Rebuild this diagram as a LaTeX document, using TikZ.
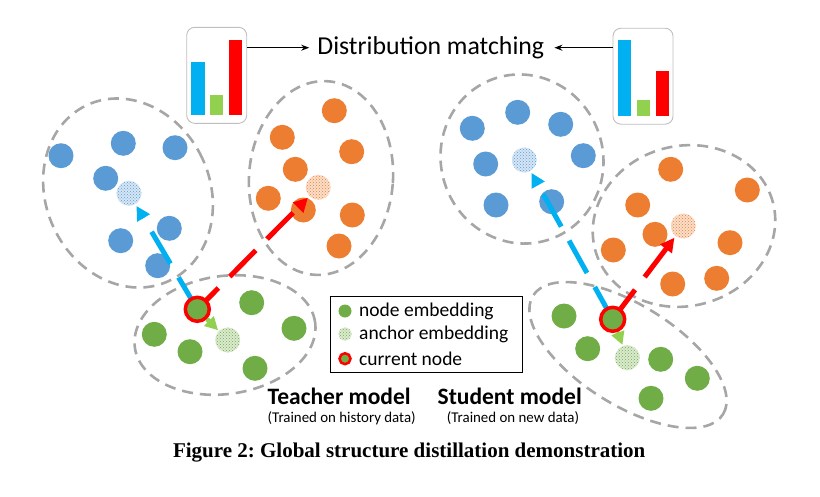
\documentclass[tikz,border=0pt]{standalone}
\usepackage{fontspec}
\setmainfont{Carlito}
\newfontfamily\capfont{Liberation Serif}
\usetikzlibrary{arrows.meta,patterns}
\frenchspacing
\definecolor{nblue}{HTML}{5B9BD5}
\definecolor{norange}{HTML}{ED7D31}
\definecolor{ngreen}{HTML}{70AD47}
\definecolor{acyan}{HTML}{00B0F0}
\definecolor{ared}{HTML}{FF0000}
\definecolor{alime}{HTML}{92D050}
\definecolor{dgray}{HTML}{A6A6A6}
\definecolor{bgray}{HTML}{BFBFBF}
\tikzset{
 emb/.style={circle, fill=#1, minimum size=25pt, inner sep=0pt},
 anc/.style={circle, fill=#1!25, minimum size=25pt, inner sep=0pt,
   postaction={pattern=crosshatch dots, pattern color=#1}},
 cur/.style={circle, fill=ngreen, draw=ared, line width=3.5pt, minimum size=24pt, inner sep=0pt},
 cluster/.style={draw=dgray, line width=2.6pt, dash pattern=on 11pt off 7pt},
 flow/.style={line width=5pt, dash pattern=on 37pt off 16pt, -{Triangle[length=14pt,width=14pt]}, shorten >=2pt},
 shortflow/.style={line width=4.5pt, alime, -{Triangle[length=13pt,width=13pt]}, shorten >=1pt},
 chartbox/.style={draw=bgray, rounded corners=8pt, line width=0.9pt, fill=white, minimum width=60pt, minimum height=96pt, inner sep=0pt},
 ptr/.style={line width=1.3pt, -{Stealth[length=8pt,width=6pt]}},
 lbl/.style={inner sep=0pt, font=\fontsize{19.5}{22}\selectfont},
 title/.style={inner sep=0pt, anchor=base, font=\fontsize{23.5}{26}\selectfont\bfseries},
 sub/.style={inner sep=0pt, anchor=base, font=\fontsize{14.9}{17}\selectfont},
 legdot/.style={circle, fill=ngreen, minimum size=13pt, inner sep=0pt},
}
\begin{document}
\begin{tikzpicture}[x=1pt,y=-1pt]
\useasboundingbox (0,0) rectangle (820,496);
% ---------- clusters ----------
\draw[cluster, rotate around={25:(128,193)}] (128,193) ellipse [x radius=82pt, y radius=97pt];
\draw[cluster, rotate around={-4:(321,178)}] (321,178) ellipse [x radius=72pt, y radius=97pt];
\draw[cluster, rotate around={8:(225,335)}] (225,335) ellipse [x radius=91pt, y radius=59pt];
\draw[cluster, rotate around={20:(522,159)}] (522,159) ellipse [x radius=81pt, y radius=85pt];
\draw[cluster, rotate around={15:(684,226)}] (684,226) ellipse [x radius=92pt, y radius=80pt];
\draw[cluster, rotate around={-32:(628,355)}] (628,355) ellipse [x radius=112pt, y radius=50pt];
% ---------- teacher nodes ----------
\node[emb=nblue] (tb1) at (61,155.7) {};
\node[emb=nblue] (tb2) at (123.3,143.3) {};
\node[emb=nblue] (tb3) at (175,147.7) {};
\node[emb=nblue] (tb4) at (105.7,178.3) {};
\node[anc=nblue] (tba) at (129,193.3) {};
\node[emb=nblue] (tb5) at (169.3,228.3) {};
\node[emb=nblue] (tb6) at (120.7,240.7) {};
\node[emb=nblue] (tb7) at (157.7,265.7) {};
\node[emb=norange] (to1) at (334.3,110.7) {};
\node[emb=norange] (to2) at (282.3,137.3) {};
\node[emb=norange] (to3) at (351.7,151.7) {};
\node[emb=norange] (to4) at (295.3,169.3) {};
\node[anc=norange] (toa) at (318.3,187.3) {};
\node[emb=norange] (to5) at (268.3,198.3) {};
\node[emb=norange] (to6) at (303.3,210) {};
\node[emb=norange] (to7) at (352.3,215) {};
\node[emb=norange] (to8) at (339,246) {};
\node[emb=ngreen] (tg1) at (251.7,302.7) {};
\node[emb=ngreen] (tg2) at (294,328.3) {};
\node[emb=ngreen] (tg3) at (154.3,334.3) {};
\node[anc=ngreen] (tga) at (227.7,340) {};
\node[emb=ngreen] (tg4) at (190,351.7) {};
\node[emb=ngreen] (tg5) at (255,368.3) {};
% ---------- student nodes ----------
\node[emb=nblue] (sb1) at (472.3,128.3) {};
\node[emb=nblue] (sb2) at (517.7,112.3) {};
\node[emb=nblue] (sb3) at (560.7,124.3) {};
\node[emb=nblue] (sb4) at (485.7,164) {};
\node[anc=nblue] (sba) at (524.3,160) {};
\node[emb=nblue] (sb5) at (583.3,155.7) {};
\node[emb=nblue] (sb6) at (496,205) {};
\node[emb=nblue] (sb7) at (551.7,201.7) {};
\node[emb=norange] (so1) at (670.7,169.3) {};
\node[emb=norange] (so2) at (747.3,190) {};
\node[emb=norange] (so3) at (637.7,205) {};
\node[emb=norange] (so4) at (655,234.3) {};
\node[anc=norange] (soa) at (683.3,226) {};
\node[emb=norange] (so5) at (613.3,250) {};
\node[emb=norange] (so6) at (730,242.7) {};
\node[emb=norange] (so7) at (672.7,284) {};
\node[emb=norange] (so8) at (716.7,278.3) {};
\node[emb=ngreen] (sg1) at (564,316) {};
\node[emb=ngreen] (sg2) at (587.7,348.7) {};
\node[anc=ngreen] (sga) at (627.3,357.7) {};
\node[emb=ngreen] (sg3) at (660.7,359.3) {};
\node[emb=ngreen] (sg4) at (697.3,378.3) {};
\node[emb=ngreen] (sg5) at (651,398.3) {};
% ---------- current-node anchors ----------
\coordinate (tcc) at (197.3,309.3);
\coordinate (scc) at (612.7,319.3);
% ---------- arrows ----------
\draw[flow, acyan] (tcc) -- (tba);
\draw[flow, ared, dash phase=7pt] (tcc) -- (toa);
\draw[flow, acyan] (scc) -- (sba);
\draw[flow, ared, dash phase=0pt] (scc) -- (soa);
\node[cur] (tc) at (tcc) {};
\node[cur] (sc) at (scc) {};
\draw[shortflow] (tc) -- (tga);
\draw[shortflow] (sc) -- (sga);
% ---------- charts ----------
\node[chartbox] (lbox) at (216.7,75.3) {};
\fill[acyan] (191,62) rectangle (205,115.3);
\fill[alime] (210,95) rectangle (223.3,115.3);
\fill[ared] (229,40) rectangle (242,115.3);
\node[chartbox] (rbox) at (643,76.2) {};
\fill[acyan] (617.7,40) rectangle (631,115.7);
\fill[alime] (636.7,100) rectangle (650,115.7);
\fill[ared] (656,70.7) rectangle (669,115.7);
\node[inner sep=0pt, font=\fontsize{25.8}{28}\selectfont] (dm) at (430.8,47.7) {Distribution matching};
\draw[ptr] (dm.west -| lbox.east) -- ([xshift=-8pt]dm.west);
\draw[ptr] (dm.east -| rbox.west) -- ([xshift=10pt]dm.east);
% ---------- legend ----------
\node[draw=black, line width=0.8pt, minimum width=192.7pt, minimum height=76.3pt, inner sep=0pt] (leg) at (426.3,334.2) {};
\node[legdot] (l1) at (345,311) {};
\node[legdot, fill=ngreen!25, postaction={pattern=crosshatch dots, pattern color=ngreen}] (l2) at (345,334) {};
\node[legdot, draw=ared, line width=2.5pt, minimum size=11pt] (l3) at (345,358.7) {};
\node[lbl, anchor=west] (t1) at (359,311) {node embedding};
\node[lbl, anchor=west] (t2) at (359,334) {anchor embedding};
\node[lbl, anchor=west] (t3) at (359,358.7) {current node};
% ---------- model labels ----------
\node[title] (tm) at (339.2,404) {Teacher model};
\node[sub] (tms) at (341.7,422) {(Trained on history data)};
\node[title] (sm) at (509.7,404) {Student model};
\node[sub] (sms) at (513,422) {(Trained on new data)};
% ---------- caption ----------
\node[inner sep=0pt, font=\capfont\fontsize{21}{24}\selectfont\bfseries] (cap) at (409.2,453) {Figure 2: Global structure distillation demonstration};
\end{tikzpicture}
\end{document}
